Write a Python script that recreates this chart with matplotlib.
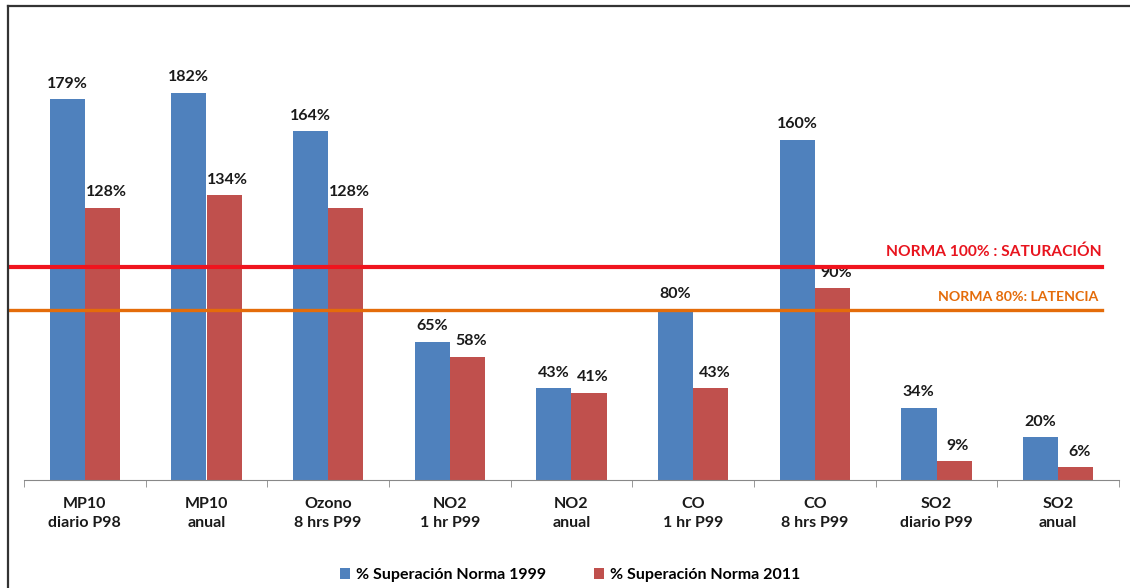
import numpy as np
import matplotlib.pyplot as plt
from matplotlib.lines import Line2D

plt.rcParams['font.family'] = ['Lato', 'DejaVu Sans']

categorias = ['MP10\ndiario P98', 'MP10\nanual', 'Ozono\n8 hrs P99', 'NO2\n1 hr P99',
              'NO2\nanual', 'CO\n1 hr P99', 'CO\n8 hrs P99', 'SO2\ndiario P99', 'SO2\nanual']
sup_1999 = [179, 182, 164, 65, 43, 80, 160, 34, 20]
sup_2011 = [128, 134, 128, 58, 41, 43, 90, 9, 6]
norma_sat = 100
norma_lat = 80

W, H = 1130, 588
fig = plt.figure(figsize=(W/100, H/100), dpi=100)
ax = fig.add_axes([24/W, 1-480/H, (1119-24)/W, (480-54.4)/H])

x = np.arange(len(categorias))
w = 0.29
b1 = ax.bar(x - w/2, sup_1999, w, color='#4F81BD', label='% Superación Norma 1999')
b2 = ax.bar(x + w/2, sup_2011, w, color='#C0504D', label='% Superación Norma 2011')

for rect, v in zip(b1, sup_1999):
    ax.annotate('%d%%' % v, (rect.get_x() + rect.get_width()/2, v), xytext=(0, 6),
                textcoords='offset points', ha='center', va='bottom',
                fontsize=11.5, fontweight='bold', color='#1a1a1a')
for rect, v in zip(b2, sup_2011):
    ax.annotate('%d%%' % v, (rect.get_x() + rect.get_width()/2 + 0.03, v), xytext=(0, 6),
                textcoords='offset points', ha='center', va='bottom',
                fontsize=11.5, fontweight='bold', color='#1a1a1a')

# lineas de norma
ax.plot([-0.615, 8.36], [norma_sat, norma_sat], color='#F0141E', lw=3, clip_on=False, zorder=3)
ax.plot([-0.615, 8.36], [norma_lat, norma_lat], color='#E46C0A', lw=2.4, clip_on=False, zorder=3)
ax.text(8.36, norma_sat + 4, 'NORMA 100% : SATURACIÓN', ha='right', va='bottom',
        color='#E8141E', fontsize=11.2, fontweight='bold')
ax.text(8.33, norma_lat + 3, 'NORMA 80%: LATENCIA', ha='right', va='bottom',
        color='#E46C0A', fontsize=10.2, fontweight='bold')

ax.set_xlim(-0.5, 8.5)
ax.set_ylim(0, 200)
ax.set_xticks(x)
ax.set_xticklabels(categorias, fontsize=11.5, fontweight='bold', color='#1a1a1a', linespacing=1.45)
ax.set_xticks(np.arange(-0.5, 9, 1), minor=True)
ax.tick_params(axis='x', which='major', length=0, pad=12)
ax.tick_params(axis='x', which='minor', length=5, color='#888888')
ax.set_yticks([])
for s in ['top', 'right', 'left']:
    ax.spines[s].set_visible(False)
ax.spines['bottom'].set_color('#888888')

fig.legend(handles=[b1, b2], loc='center', bbox_to_anchor=(570/W, 1-575/H), ncol=2,
           frameon=False, prop={'weight': 'bold', 'size': 11.5},
           handlelength=0.65, handleheight=0.65, columnspacing=3.0, handletextpad=0.35)

# marco
fig.add_artist(Line2D([8/W, 8/W], [1-6/H, 0], transform=fig.transFigure, color='#333333', lw=1.6))
fig.add_artist(Line2D([8/W, 1], [1-6/H, 1-6/H], transform=fig.transFigure, color='#333333', lw=1.6))

fig.savefig('out.png', dpi=100)
